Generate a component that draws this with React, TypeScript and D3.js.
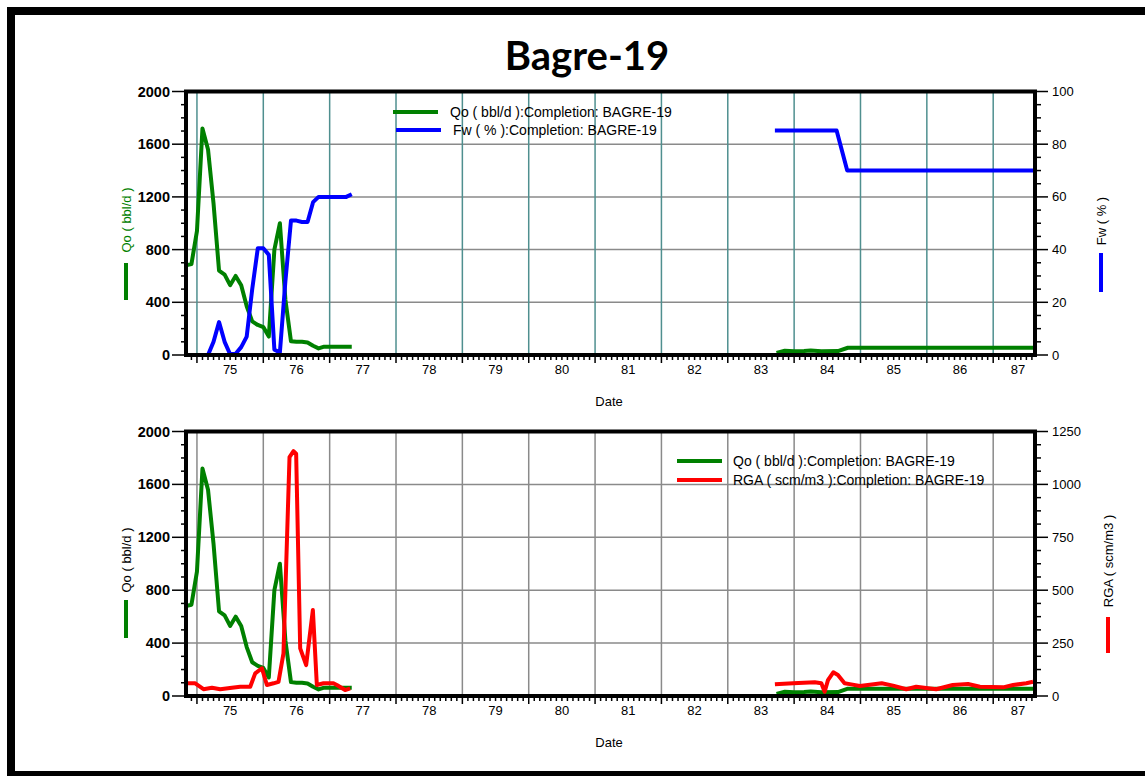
import React from 'react';
import * as d3 from 'd3';

// ---------- DATA ----------
const yearLabels = ['75', '76', '77', '78', '79', '80', '81', '82', '83', '84', '85', '86', '87'];
const yearStarts = [75, 76, 77, 78, 79, 80, 81, 82, 83, 84, 85, 86, 87];

// Qo (bbl/d) — monthly, early period, starting Nov 1974
const qoEarly: [number, number][] = [
  [74.833, 680], [74.917, 690], [75.0, 940], [75.083, 1720], [75.167, 1560], [75.25, 1150],
  [75.333, 640], [75.417, 610], [75.5, 530], [75.583, 600], [75.667, 530], [75.75, 370],
  [75.833, 255], [75.917, 228], [76.0, 212], [76.083, 140], [76.167, 800], [76.25, 1000],
  [76.333, 420], [76.417, 105], [76.5, 100], [76.583, 100], [76.667, 95], [76.75, 70],
  [76.833, 50], [76.917, 63], [77.0, 63], [77.083, 63], [77.167, 63], [77.25, 63], [77.333, 63],
];
const qoLate: [number, number][] = [
  [83.735, 15], [83.86, 32], [84.0, 28], [84.15, 30], [84.25, 34], [84.41, 28], [84.66, 30],
  [84.81, 55], [85.5, 55], [86.5, 55], [87.6, 55],
];

// Fw (%)
const fwEarly: [number, number][] = [
  [75.167, 0], [75.25, 5], [75.333, 12.5], [75.417, 5], [75.5, 0.3], [75.583, 0.5],
  [75.667, 3], [75.75, 7], [75.833, 25], [75.917, 40.5], [76.0, 40.5], [76.083, 38],
  [76.167, 2], [76.25, 1], [76.333, 28], [76.417, 51], [76.5, 51], [76.583, 50.5],
  [76.667, 50.5], [76.75, 58], [76.833, 60], [76.917, 60], [77.0, 60], [77.083, 60],
  [77.167, 60], [77.25, 60], [77.333, 61],
];
const fwLate: [number, number][] = [
  [83.71, 85.2], [84.0, 85.2], [84.3, 85.2], [84.64, 85.2], [84.8, 70], [85.5, 70],
  [86.5, 70], [87.6, 70],
];

// RGA (scm/m3)
const rgaEarly: [number, number][] = [
  [74.839, 60], [74.873, 60], [74.974, 60], [75.099, 32], [75.226, 39], [75.351, 32],
  [75.527, 39], [75.652, 44], [75.803, 44], [75.878, 107], [75.979, 131], [76.054, 52],
  [76.154, 60], [76.229, 67], [76.304, 201], [76.395, 1129], [76.455, 1157], [76.495, 1145],
  [76.556, 225], [76.646, 146], [76.747, 406], [76.807, 52], [76.907, 60], [77.057, 60],
  [77.108, 52], [77.233, 28], [77.309, 36],
];
const rgaLate: [number, number][] = [
  [83.71, 55], [83.985, 60], [84.31, 65], [84.41, 60], [84.46, 20], [84.51, 75],
  [84.59, 112], [84.66, 99], [84.76, 60], [84.86, 55], [84.99, 47], [85.32, 60],
  [85.49, 49], [85.69, 32], [85.84, 44], [86.14, 32], [86.39, 52], [86.62, 57],
  [86.8, 44], [87.15, 41], [87.3, 52], [87.5, 60], [87.6, 67],
];

const qoTicks = [0, 400, 800, 1200, 1600, 2000];
const fwTicks = [0, 20, 40, 60, 80, 100];
const rgaTicks = [0, 250, 500, 750, 1000, 1250];

// ---------- LAYOUT ----------
const W = 1145, H = 776;
const X0 = 186, X1 = 1035;
const X_DOMAIN: [number, number] = [74.835, 87.63];
const FONT = "'Liberation Sans', Arial, sans-serif";
const GREEN = '#008000', BLUE = '#0000ff', RED = '#ff0000';

const x = d3.scaleLinear().domain(X_DOMAIN).range([X0, X1]);

type Series = { data: [number, number][][]; color: string; axis: 'left' | 'right' };

interface PanelProps {
  id: string;
  top: number;
  bottom: number;
  vGridColor: string;
  rightMax: number;
  rightTicks: number[];
  rightMinorStep: number;
  series: Series[];
  legend: { color: string; label: string; x: number; lx: number; y: number }[];
  leftTitle: string;
  leftTitleColor: string;
  leftTitleY: number;
  leftBar: [number, number];
  rightTitle: string;
  rightTitleX: number;
  rightTitleY: number;
  rightBar: [number, number];
  rightColor: string;
}

function Panel(p: PanelProps) {
  const yL = d3.scaleLinear().domain([0, 2000]).range([p.bottom, p.top]);
  const yR = d3.scaleLinear().domain([0, p.rightMax]).range([p.bottom, p.top]);
  const leftMinor = d3.range(0, 2000 + 1, 100).filter((v) => v % 400 !== 0);
  const rightMinor = d3
    .range(0, p.rightMax + 0.001, p.rightMinorStep)
    .filter((v) => !p.rightTicks.some((t) => Math.abs(t - v) < 1e-6));
  const monthTicks = d3
    .range(Math.ceil(X_DOMAIN[0] * 12), Math.floor(X_DOMAIN[1] * 12) + 1)
    .filter((m) => m % 12 !== 0)
    .map((m) => m / 12);

  return (
    <g>
      <defs>
        <clipPath id={`clip-${p.id}`}>
          <rect x={X0} y={p.top} width={X1 - X0} height={p.bottom - p.top} />
        </clipPath>
      </defs>
      {qoTicks.map((t) => (
        <line key={`hg${t}`} x1={X0} x2={X1} y1={yL(t)} y2={yL(t)} stroke="#8a8a8a" strokeWidth={1.5} />
      ))}
      {yearStarts.map((yr) => (
        <line key={`vg${yr}`} x1={x(yr)} x2={x(yr)} y1={p.top} y2={p.bottom} stroke={p.vGridColor} strokeWidth={1.5} />
      ))}
      <g clipPath={`url(#clip-${p.id})`}>
        {p.series.map((s, i) =>
          s.data.map((seg, j) => {
            const y = s.axis === 'left' ? yL : yR;
            const line = d3
              .line<[number, number]>()
              .x((d) => x(d[0]))
              .y((d) => y(d[1]));
            return (
              <path
                key={`s${i}-${j}`}
                d={line(seg) || ''}
                fill="none"
                stroke={s.color}
                strokeWidth={4}
                strokeLinejoin="round"
              />
            );
          })
        )}
      </g>
      <rect x={X0} y={p.top} width={X1 - X0} height={p.bottom - p.top} fill="none" stroke="#000" strokeWidth={4} />
      {qoTicks.map((t) => (
        <g key={`lt${t}`}>
          <line x1={X0 - 14} x2={X0} y1={yL(t)} y2={yL(t)} stroke="#000" strokeWidth={1.5} />
          <text x={X0 - 16} y={yL(t)} dy="0.35em" textAnchor="end" fontFamily={FONT} fontSize={14.5} fontWeight="bold" fill="#000">
            {t}
          </text>
        </g>
      ))}
      {leftMinor.map((t) => (
        <line key={`lm${t}`} x1={X0 - 5} x2={X0} y1={yL(t)} y2={yL(t)} stroke="#000" strokeWidth={1.5} />
      ))}
      {p.rightTicks.map((t) => (
        <g key={`rt${t}`}>
          <line x1={X1} x2={X1 + 13} y1={yR(t)} y2={yR(t)} stroke="#000" strokeWidth={1.5} />
          <text x={X1 + 17} y={yR(t)} dy="0.35em" textAnchor="start" fontFamily={FONT} fontSize={13} fill="#000">
            {t}
          </text>
        </g>
      ))}
      {rightMinor.map((t) => (
        <line key={`rm${t}`} x1={X1} x2={X1 + 6} y1={yR(t)} y2={yR(t)} stroke="#000" strokeWidth={1.5} />
      ))}
      {yearStarts.map((yr) => (
        <line key={`bt${yr}`} x1={x(yr)} x2={x(yr)} y1={p.bottom} y2={p.bottom + 8} stroke="#000" strokeWidth={1.5} />
      ))}
      {monthTicks.map((m) => (
        <line key={`bm${m}`} x1={x(m)} x2={x(m)} y1={p.bottom} y2={p.bottom + 5} stroke="#000" strokeWidth={1.5} />
      ))}
      {yearStarts.map((yr, i) => {
        const end = Math.min(yr + 1, X_DOMAIN[1]);
        const mid = end < yr + 1 ? (yr + end) / 2 + 0.06 : yr + 0.5;
        return (
          <text key={`yl${yr}`} x={x(mid)} y={p.bottom + 19} textAnchor="middle" fontFamily={FONT} fontSize={13} fill="#000">
            {yearLabels[i]}
          </text>
        );
      })}
      <text x={609} y={p.bottom + 51} textAnchor="middle" fontFamily={FONT} fontSize={13} fill="#000">
        Date
      </text>
      {p.legend.map((l, i) => (
        <g key={`lg${i}`}>
          <line x1={l.lx} x2={l.lx + 45} y1={l.y} y2={l.y} stroke={l.color} strokeWidth={4} />
          <text x={l.x} y={l.y} dy="0.35em" fontFamily={FONT} fontSize={14} fill="#000">
            {l.label}
          </text>
        </g>
      ))}
      <text
        transform={`translate(126,${p.leftTitleY}) rotate(-90)`}
        textAnchor="middle"
        dy="0.35em"
        fontFamily={FONT}
        fontSize={13}
        fill={p.leftTitleColor}
      >
        {p.leftTitle}
      </text>
      <rect x={124} y={p.leftBar[0]} width={4} height={p.leftBar[1] - p.leftBar[0]} fill={GREEN} />
      <text
        transform={`translate(${p.rightTitleX},${p.rightTitleY}) rotate(-90)`}
        textAnchor="middle"
        dy="0.35em"
        fontFamily={FONT}
        fontSize={13}
        fill="#000"
      >
        {p.rightTitle}
      </text>
      <rect x={p.rightTitleX - 2} y={p.rightBar[0]} width={4} height={p.rightBar[1] - p.rightBar[0]} fill={p.rightColor} />
    </g>
  );
}

export default function App() {
  return (
    <svg width={W} height={H} style={{ position: 'absolute', left: 0, top: 0, background: '#fff' }}>
      <rect x={0} y={0} width={W} height={H} fill="#fff" />
      <rect x={11} y={11} width={W + 20} height={764} fill="none" stroke="#000" strokeWidth={8} />
      <text x={587} y={70} textAnchor="middle" fontFamily="Lato, 'Open Sans', sans-serif" fontWeight="bold" fontSize={40} fill="#000">
        Bagre-19
      </text>
      <Panel
        id="top"
        top={91.5}
        bottom={355}
        vGridColor="#4f8f8f"
        rightMax={100}
        rightTicks={fwTicks}
        rightMinorStep={5}
        series={[
          { data: [qoEarly, qoLate], color: GREEN, axis: 'left' },
          { data: [fwEarly, fwLate], color: BLUE, axis: 'right' },
        ]}
        legend={[
          { color: GREEN, label: 'Qo ( bbl/d ):Completion: BAGRE-19', lx: 393, x: 450, y: 112 },
          { color: BLUE, label: 'Fw ( % ):Completion: BAGRE-19', lx: 396, x: 453, y: 130 },
        ]}
        leftTitle="Qo ( bbl/d )"
        leftTitleColor={GREEN}
        leftTitleY={220}
        leftBar={[263, 300]}
        rightTitle="Fw ( % )"
        rightTitleX={1101}
        rightTitleY={221}
        rightBar={[253, 292]}
        rightColor={BLUE}
      />
      <Panel
        id="bottom"
        top={431.5}
        bottom={696}
        vGridColor="#8a8a8a"
        rightMax={1250}
        rightTicks={rgaTicks}
        rightMinorStep={62.5}
        series={[
          { data: [qoEarly, qoLate], color: GREEN, axis: 'left' },
          { data: [rgaEarly, rgaLate], color: RED, axis: 'right' },
        ]}
        legend={[
          { color: GREEN, label: 'Qo ( bbl/d ):Completion: BAGRE-19', lx: 677, x: 733, y: 461 },
          { color: RED, label: 'RGA ( scm/m3 ):Completion: BAGRE-19', lx: 677, x: 733, y: 480 },
        ]}
        leftTitle="Qo ( bbl/d )"
        leftTitleColor="#000"
        leftTitleY={560}
        leftBar={[600, 638]}
        rightTitle="RGA ( scm/m3 )"
        rightTitleX={1108}
        rightTitleY={561}
        rightBar={[617, 653]}
        rightColor={RED}
      />
    </svg>
  );
}
